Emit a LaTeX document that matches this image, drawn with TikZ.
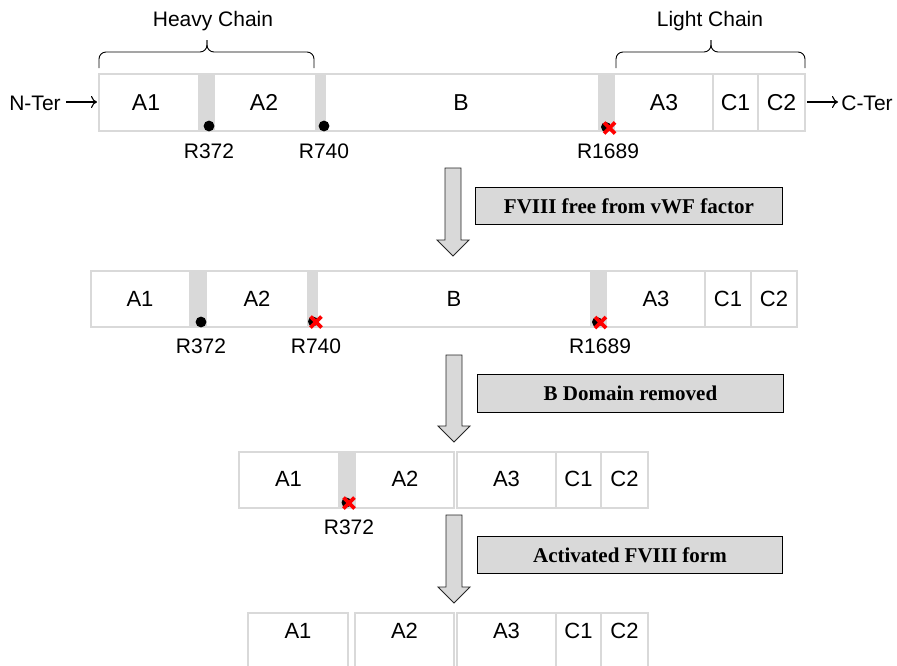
\documentclass[tikz,border=0pt]{standalone}
\usepackage{fontspec}
\usetikzlibrary{arrows.meta}
\setmainfont{Liberation Sans}
\newfontfamily\tnr{Liberation Serif}
\definecolor{segline}{HTML}{D9D9D9}
\definecolor{bargray}{HTML}{D9D9D9}
\definecolor{boxgray}{HTML}{D9D9D9}
\definecolor{xred}{HTML}{FF0000}
\begin{document}
\begin{tikzpicture}[x=1pt,y=-1pt,
  seg/.style={draw=segline, line width=1.3pt, inner sep=0pt, outer sep=0pt, anchor=north west},
  divider/.style={draw=segline, line width=1.3pt},
  bar/.style={fill=bargray},
  dlab/.style={font=\fontsize{23}{26}\selectfont, inner sep=0pt, anchor=base},
  dlabs/.style={font=\fontsize{22}{26}\selectfont, inner sep=0pt, anchor=base},
  rlab/.style={font=\fontsize{21}{24}\selectfont, inner sep=0pt, anchor=base},
  stepbox/.style={draw=black, line width=0.9pt, fill=boxgray, minimum width=307pt, minimum height=37pt, inner sep=0pt, font=\tnr\bfseries\fontsize{21}{24}\selectfont},
  blockarrow/.style={draw=black!85, fill=bargray, line width=0.9pt, line join=miter},
  brace/.style={draw=black, line width=0.9pt, rounded corners=7pt},
  termarrow/.style={draw=black, line width=1.1pt, -{To[length=6pt,width=12pt]}},
  cut/.style={fill=black},
  cross/.style={draw=xred, line width=3.6pt}
]
\useasboundingbox (0,0) rectangle (897,665);
\clip (0,0) rectangle (897,665);

% ---------------- Row 1 ----------------
\fill[bar] (198,74) rectangle (215,131);
\fill[bar] (315,74) rectangle (326,131);
\fill[bar] (598,74) rectangle (615,131);
\node[seg, minimum width=706pt, minimum height=57pt] (row1) at (99,74) {};
\draw[divider] (713,74) -- (713,131);
\draw[divider] (758,74) -- (758,131);
\node[dlab] (r1a1) at (146,110.5) {A1};
\node[dlab] (r1a2) at (264,110.5) {A2};
\node[dlab] (r1b) at (461,110.5) {B};
\node[dlab] (r1a3) at (664,110.5) {A3};
\node[dlab] (r1c1) at (735.5,110.5) {C1};
\node[dlab] (r1c2) at (781.5,110.5) {C2};

\node[rlab] (nter) at (35,110) {N-Ter};
\node[rlab] (cter) at (867,110) {C-Ter};
\coordinate (nterend) at (97,102);
\coordinate (cterend) at (838,102);
\coordinate (nterstart) at (66,102);
\coordinate (cterstart) at (807,102);
\draw[termarrow] (nterstart) -- (nterend);
\draw[termarrow] (cterstart) -- (cterend);

\fill[cut] (209,126) circle (5.4);
\fill[cut] (324,126) circle (5.4);
\fill[cut] (606,127) circle (5);
\draw[cross] (604,122.5) -- (615,133.5) (604,133.5) -- (615,122.5);

\node[rlab] (r1r372) at (209,158.3) {R372};
\node[rlab] (r1r740) at (324,158.3) {R740};
\node[rlab] (r1r1689) at (608,158.3) {R1689};

% braces
\draw[brace] (99,68) -- (99,52) -- (207,52) -- (207,40);
\draw[brace] (314,68) -- (314,52) -- (207,52) -- (207,40);
\draw[brace] (616,68) -- (616,52) -- (711,52) -- (711,40);
\draw[brace] (805,68) -- (805,52) -- (711,52) -- (711,40);
\node[rlab] (heavy) at (213,26.7) {Heavy Chain};
\node[rlab] (light) at (710,26.7) {Light Chain};

% arrow 1 and step label
\draw[blockarrow] (445,168) -- (461,168) -- (461,240) -- (469,240) -- (453,256) -- (437,240) -- (445,240) -- cycle;
\node[stepbox, anchor=north west] (step1) at (475,187) {FVIII free from vWF factor};

% ---------------- Row 2 ----------------
\fill[bar] (189,271) rectangle (207,327);
\fill[bar] (307,271) rectangle (318,327);
\fill[bar] (590,271) rectangle (607,327);
\node[seg, minimum width=706pt, minimum height=56pt] (row2) at (91,271) {};
\draw[divider] (705,271) -- (705,327);
\draw[divider] (751,271) -- (751,327);
\node[dlabs] (r2a1) at (140,306.7) {A1};
\node[dlabs] (r2a2) at (257,306.7) {A2};
\node[dlabs] (r2b) at (454,306.7) {B};
\node[dlabs] (r2a3) at (656,306.7) {A3};
\node[dlabs] (r2c1) at (728,306.7) {C1};
\node[dlabs] (r2c2) at (774,306.7) {C2};

\fill[cut] (201,322) circle (5.4);
\fill[cut] (313,321.5) circle (5);
\draw[cross] (310.5,316.5) -- (321.5,327.5) (310.5,327.5) -- (321.5,316.5);
\fill[cut] (597,322) circle (5);
\draw[cross] (595,317) -- (606,328) (595,328) -- (606,317);

\node[rlab] (r2r372) at (201,353.3) {R372};
\node[rlab] (r2r740) at (316,353.3) {R740};
\node[rlab] (r2r1689) at (600,353.3) {R1689};

% arrow 2 and step label
\draw[blockarrow] (446,355) -- (462,355) -- (462,426) -- (470,426) -- (454,442) -- (438,426) -- (446,426) -- cycle;
\node[stepbox, anchor=north west, minimum height=38pt, minimum width=306pt] (step2) at (477,373.5) {B Domain removed};

% ---------------- Row 3 ----------------
\fill[bar] (338,452) rectangle (356,508);
\node[seg, minimum width=215pt, minimum height=56pt] (row3a) at (239,452) {};
\node[seg, minimum width=191pt, minimum height=56pt] (row3b) at (457,452) {};
\draw[divider] (556,452) -- (556,508);
\draw[divider] (601,452) -- (601,508);
\node[dlabs] (r3a1) at (288.5,486.7) {A1};
\node[dlabs] (r3a2) at (405,486.7) {A2};
\node[dlabs] (r3a3) at (506.5,486.7) {A3};
\node[dlabs] (r3c1) at (578.5,486.7) {C1};
\node[dlabs] (r3c2) at (624.5,486.7) {C2};

\fill[cut] (346.5,502.5) circle (5);
\draw[cross] (343.5,497.5) -- (354.5,508.5) (343.5,508.5) -- (354.5,497.5);
\node[rlab] (r3r372) at (349,534) {R372};

% arrow 3 and step label
\draw[blockarrow] (446,515) -- (462,515) -- (462,587) -- (470,587) -- (454,603) -- (438,587) -- (446,587) -- cycle;
\node[stepbox, anchor=north west, minimum height=37pt, minimum width=305pt] (step3) at (477,536) {Activated FVIII form};

% ---------------- Row 4 ----------------
\node[seg, minimum width=100pt, minimum height=70pt] (row4a1) at (248,613) {};
\node[seg, minimum width=99pt, minimum height=70pt] (row4a2) at (355,613) {};
\node[seg, minimum width=191pt, minimum height=70pt] (row4b) at (457,613) {};
\draw[divider] (556,613) -- (556,683);
\draw[divider] (601,613) -- (601,683);
\node[dlabs] (r4a1) at (298,638.3) {A1};
\node[dlabs] (r4a2) at (404.5,638.3) {A2};
\node[dlabs] (r4a3) at (506.5,638.3) {A3};
\node[dlabs] (r4c1) at (578.5,638.3) {C1};
\node[dlabs] (r4c2) at (624.5,638.3) {C2};
\end{tikzpicture}
\end{document}
